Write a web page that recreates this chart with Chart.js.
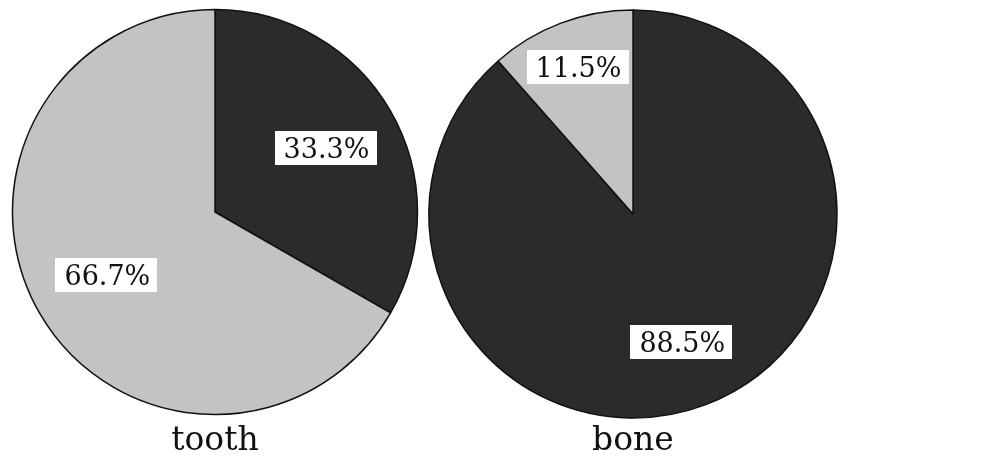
<!DOCTYPE html>
<html>
<head>
<meta charset="utf-8">
<script src="https://cdn.jsdelivr.net/npm/chart.js@4/dist/chart.umd.min.js"></script>
<style>
  html, body { margin: 0; padding: 0; background: #ffffff; }
  body { width: 1001px; height: 464px; position: relative; overflow: hidden; }
  .pie { position: absolute; top: 0; width: 430px; height: 464px; }
  #toothBox { left: 0px; }
  #boneBox { left: 418px; }
</style>
</head>
<body>
<div class="pie" id="toothBox"><canvas id="tooth"></canvas></div>
<div class="pie" id="boneBox"><canvas id="bone"></canvas></div>
<script>
// Shares of the two components in each material (percent)
const parts = ['dark', 'light'];
const toothValues = [33.3, 66.7];
const boneValues = [88.5, 11.5];
const toothTitle = 'tooth';
const boneTitle = 'bone';

const DARK = '#2b2b2b';
const LIGHT = '#c3c3c3';
const SERIF = '"DejaVu Serif", "Liberation Serif", serif';

// Writes each slice's percentage in a white box on its bisector
const boxedLabels = {
  id: 'boxedLabels',
  afterDatasetsDraw(chart, args, opts) {
    const ctx = chart.ctx;
    const ds = chart.data.datasets[0];
    const meta = chart.getDatasetMeta(0);
    ctx.save();
    ctx.font = opts.fontSize + 'px ' + SERIF;
    ctx.textAlign = 'center';
    ctx.textBaseline = 'alphabetic';
    meta.data.forEach((arc, i) => {
      const p = arc.getProps(['x', 'y', 'startAngle', 'endAngle', 'outerRadius'], true);
      const mid = (p.startAngle + p.endAngle) / 2;
      const d = opts.radial[i] * p.outerRadius;
      const cx = p.x + Math.cos(mid) * d;
      const cy = p.y + Math.sin(mid) * d;
      const text = ds.data[i].toFixed(1) + '%';
      const w = ctx.measureText(text).width + 16;
      const h = opts.boxHeight;
      ctx.fillStyle = '#ffffff';
      ctx.fillRect(Math.round(cx - w / 2), Math.round(cy - h / 2), Math.round(w), h);
      ctx.fillStyle = '#111111';
      ctx.fillText(text, cx + 1, cy + opts.fontSize * 0.37);
    });
    ctx.restore();
  }
};

function makePie(id, values, title, radius, radial, padTop) {
  return new Chart(document.getElementById(id), {
    type: 'pie',
    data: {
      labels: parts,
      datasets: [{
        data: values,
        backgroundColor: [DARK, LIGHT],
        borderColor: '#111111',
        borderWidth: 1.5,
        radius: radius
      }]
    },
    options: {
      responsive: true,
      maintainAspectRatio: false,
      animation: false,
      rotation: 0,
      layout: { padding: { top: padTop, left: 0, right: 0, bottom: 0 } },
      plugins: {
        legend: { display: false },
        tooltip: { enabled: false },
        title: {
          display: true,
          text: title,
          position: 'bottom',
          color: '#111111',
          font: { family: SERIF, size: 33, weight: 'normal', lineHeight: 1 },
          padding: { top: 0.5, bottom: 6.5 }
        },
        boxedLabels: { radial: radial, fontSize: 27, boxHeight: 34 }
      }
    },
    plugins: [boxedLabels]
  });
}

makePie('tooth', toothValues, toothTitle, 202.5, [0.63, 0.62], 0);
makePie('bone', boneValues, boneTitle, 204, [0.67, 0.77], 4);
</script>
</body>
</html>
